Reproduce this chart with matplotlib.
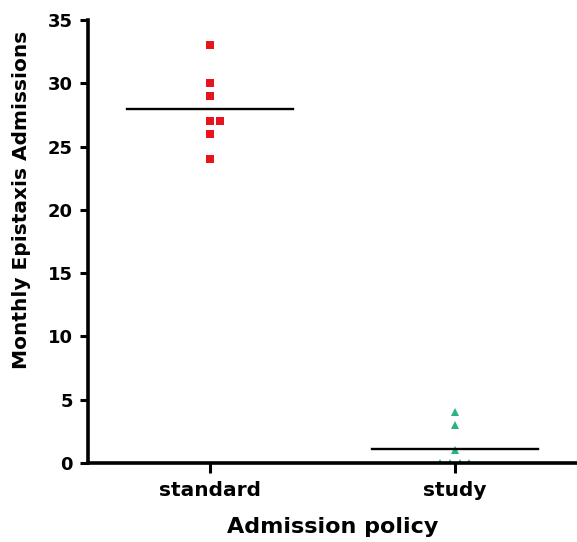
import matplotlib.pyplot as plt
import numpy as np

categories = ['standard', 'study']
standard_vals = [33, 30, 29, 27, 27, 26, 24]
standard_dx = [0, 0, 0, 0, 0.04, 0, 0]
study_vals = [4, 3, 1, 0, 0, 0, 0]
study_dx = [0, 0, 0, -0.06, -0.02, 0.02, 0.06]

plt.rcParams['font.family'] = 'DejaVu Sans'
plt.rcParams['font.weight'] = 'bold'

fig = plt.figure(figsize=(5.77, 5.42), dpi=100)
ax = fig.add_axes([0.1525, 0.1458, 0.8475, 0.8172])

ax.plot(np.array(standard_dx) + 0, standard_vals, 's', color='#e8141c',
        markersize=6, markeredgewidth=0, zorder=2)
ax.plot(np.array(study_dx) + 1, study_vals, '^', color='#26b38a',
        markersize=6, markeredgewidth=0, zorder=2)

for i, vals in enumerate([standard_vals, study_vals]):
    m = np.mean(vals)
    ax.plot([i - 0.34, i + 0.34], [m, m], color='black', lw=1.7, zorder=3)

ax.set_xlim(-0.5, 1.5)
ax.set_ylim(0, 35)
ax.set_xticks([0, 1])
ax.set_xticklabels(categories, fontsize=14.5, fontweight='bold')
ax.set_yticks(range(0, 36, 5))
ax.tick_params(axis='y', labelsize=13, length=6, width=2.2, pad=5)
ax.tick_params(axis='x', length=7, width=2.2, pad=6)
for lab in ax.get_yticklabels():
    lab.set_fontweight('bold')

for s in ['top', 'right']:
    ax.spines[s].set_visible(False)
for s in ['left', 'bottom']:
    ax.spines[s].set_linewidth(2.6)

ax.set_xlabel('Admission policy', fontsize=16, fontweight='bold', labelpad=12)
ax.set_ylabel('Monthly Epistaxis Admissions', fontsize=14.5, fontweight='bold')
ax.yaxis.set_label_coords(-0.117, 0.594)

fig.savefig('out.png', dpi=100)
